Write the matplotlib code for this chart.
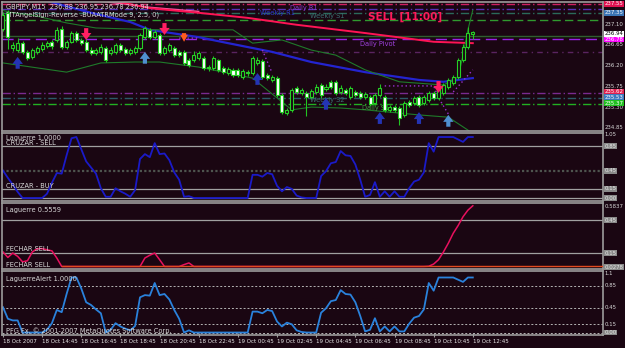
import matplotlib.pyplot as plt
import numpy as np

W, H = 625, 348
bg = '#1a0612'

# GBPJPY M15 bars, 18 Oct 12:45 -> 19 Oct 12:45
bar_open = [237.00, 237.35, 236.58, 236.54, 236.69, 236.50, 236.39, 236.50, 236.56, 236.63,
            236.72, 236.76, 237.00, 236.61, 236.72, 236.91, 236.76, 236.72, 236.54, 236.48,
            236.50, 236.58, 236.48, 236.50, 236.65, 236.56, 236.48, 236.50, 236.58, 236.82,
            236.98, 236.82, 236.87, 236.48, 236.54, 236.58, 236.50, 236.50, 236.32, 236.32,
            236.37, 236.37, 236.17, 236.15, 236.32, 236.15, 236.04, 236.11, 236.11, 235.95,
            236.06, 236.04, 236.26, 236.30, 236.00, 235.89, 235.93, 235.56, 235.17, 235.24,
            235.72, 235.61, 235.61, 235.52, 235.63, 235.78, 235.70, 235.85, 235.85, 235.63,
            235.67, 235.52, 235.63, 235.61, 235.52, 235.52, 235.39, 235.56, 235.52, 235.24,
            235.30, 235.28, 235.13, 235.41, 235.39, 235.52, 235.39, 235.45, 235.61, 235.50,
            235.61, 235.74, 235.82, 235.95, 236.32, 236.61, 236.88]
bar_close = [237.30, 236.82, 236.65, 236.69, 236.50, 236.37, 236.54, 236.58, 236.65, 236.69,
             236.63, 236.98, 236.61, 236.72, 236.91, 236.76, 236.69, 236.54, 236.48, 236.54,
             236.61, 236.32, 236.54, 236.65, 236.54, 236.48, 236.54, 236.58, 236.87, 237.02,
             236.82, 236.93, 236.48, 236.58, 236.65, 236.43, 236.43, 236.26, 236.22, 236.43,
             236.48, 236.15, 236.15, 236.37, 236.11, 236.06, 236.13, 236.00, 236.00, 236.09,
             236.04, 236.37, 236.32, 235.95, 235.93, 235.95, 235.56, 235.19, 235.24, 235.67,
             235.63, 235.67, 235.52, 235.65, 235.74, 235.56, 235.74, 235.74, 235.61, 235.72,
             235.61, 235.72, 235.56, 235.52, 235.58, 235.37, 235.56, 235.72, 235.24, 235.30,
             235.24, 235.06, 235.39, 235.35, 235.50, 235.35, 235.52, 235.61, 235.50, 235.74,
             235.78, 235.89, 235.95, 236.32, 236.61, 236.91, 236.94]
bar_high = [237.36, 237.41, 236.72, 236.80, 236.74, 236.54, 236.58, 236.63, 236.72, 236.74,
            236.76, 237.04, 237.06, 236.76, 236.96, 236.96, 236.80, 236.78, 236.60, 236.58,
            236.67, 236.63, 236.60, 236.70, 236.70, 236.60, 236.58, 236.63, 236.91, 237.06,
            237.02, 236.98, 236.91, 236.63, 236.70, 236.63, 236.54, 236.54, 236.37, 236.52,
            236.52, 236.41, 236.22, 236.41, 236.35, 236.19, 236.17, 236.15, 236.15, 236.13,
            236.11, 236.41, 236.39, 236.35, 236.04, 236.00, 235.98, 235.61, 235.28, 235.72,
            235.76, 235.72, 235.65, 235.70, 235.80, 235.82, 235.80, 235.89, 235.89, 235.78,
            235.72, 235.76, 235.67, 235.65, 235.63, 235.56, 235.61, 235.80, 235.56, 235.35,
            235.35, 235.33, 235.43, 235.45, 235.54, 235.56, 235.56, 235.65, 235.65, 235.78,
            235.82, 235.93, 236.00, 236.37, 236.67, 237.04, 236.95]
bar_low = [236.95, 236.56, 236.52, 236.50, 236.46, 236.33, 236.35, 236.45, 236.52, 236.58,
           236.56, 236.72, 236.56, 236.56, 236.69, 236.72, 236.65, 236.50, 236.43, 236.43,
           236.46, 236.28, 236.43, 236.46, 236.50, 236.43, 236.43, 236.46, 236.54, 236.78,
           236.78, 236.78, 236.43, 236.43, 236.50, 236.39, 236.39, 236.22, 236.17, 236.28,
           236.32, 236.11, 236.09, 236.11, 236.06, 236.02, 236.00, 235.95, 235.96, 235.91,
           235.98, 236.00, 236.22, 235.91, 235.89, 235.85, 235.52, 235.15, 235.13, 235.19,
           235.58, 235.56, 235.10, 235.48, 235.58, 235.50, 235.65, 235.70, 235.56, 235.58,
           235.56, 235.48, 235.52, 235.48, 235.48, 235.33, 235.35, 235.52, 235.19, 235.19,
           235.19, 234.90, 235.08, 235.30, 235.35, 235.30, 235.35, 235.41, 235.45, 235.45,
           235.56, 235.70, 235.78, 235.91, 236.28, 236.56, 236.78]

# moving averages / bands, read at some bars
red_ma_idx = [0, 10, 20, 25, 30, 40, 50, 60, 74, 88, 96]
red_ma = [237.95, 237.80, 237.66, 237.56, 237.45, 237.35, 237.24, 237.09, 236.91, 236.72, 236.69]
pink_ma_idx = [0, 10, 20, 25, 30, 40]
pink_ma = [237.90, 237.74, 237.60, 237.54, 237.47, 237.38]
blue_ma_idx = [0, 6, 12, 18, 26, 30, 40, 46, 55, 63, 74, 85, 90, 96]
blue_ma = [237.85, 237.70, 237.52, 237.35, 237.15, 236.98, 236.82, 236.69, 236.50, 236.28,
           236.06, 235.89, 235.85, 235.93]
up_band_idx = [0, 2, 6, 13, 19, 32, 47, 51, 57, 63, 68, 74, 81, 90, 93, 94, 95, 96]
up_band = [237.40, 237.35, 237.30, 237.13, 237.02, 236.98, 236.98, 236.69, 236.76, 236.54,
           236.43, 236.11, 235.85, 235.78, 235.95, 236.43, 236.98, 237.41]
lo_band_idx = [0, 13, 20, 27, 32, 40, 51, 59, 63, 69, 74, 85, 91, 95, 96]
lo_band = [236.26, 236.06, 236.26, 236.28, 236.28, 236.17, 235.93, 235.24, 235.30, 235.28,
           235.24, 235.13, 235.08, 234.80, 234.70]
stop_idx = [36, 40, np.nan, 53, 55, np.nan, 78, 88, 89, 91, np.nan, 92, 96]
stop_val = [236.80, 236.80, np.nan, 236.54, 236.04, np.nan, 235.76, 235.76, 235.50, 235.15, np.nan, 235.63, 236.11]

# horizontal levels
level_val = [237.55, 237.44, 237.35, 237.20, 236.84, 236.78, 236.50, 235.60, 235.50, 235.37]
level_col = ['#d02060', '#5a30b8', '#2a6a5a', '#2f9a2f', '#2e5e2e', '#9a22e8', '#5a2460',
             '#7a2a90', '#2a5a66', '#22b022']
level_ls = [(0, (6, 2, 1, 2)), (0, (6, 2, 1, 2)), (0, (6, 2, 1, 2)), (0, (6, 3)), '-',
            (0, (8, 4)), (0, (4, 3, 1, 3)), (0, (6, 2, 1, 2)), (0, (6, 2, 1, 2)), (0, (6, 2, 1, 2))]

up_arrow_idx = [3, 29, 52, 66, 77, 85, 91]
up_arrow_px = [236.39, 236.50, 236.04, 235.50, 235.19, 235.19, 235.13]
up_arrow_col = ['#2434b4', '#4f8fd0', '#2434b4', '#2434b4', '#2434b4', '#2434b4', '#4f8fd0']
dn_arrow_idx = [17, 33, 37, 89]
dn_arrow_px = [236.76, 236.87, 236.72, 235.61]
dn_arrow_col = ['#ff1f63', '#ff1f63', '#ff5a1e', '#ff1f63']

lag1 = [0.45, 0.33, 0.22, 0.10, 0.0, 0.0, 0.0, 0.0, 0.0, 0.07,
        0.25, 0.41, 0.40, 0.70, 0.98, 1.0, 0.80, 0.60, 0.50, 0.40,
        0.16, 0.02, 0.02, 0.16, 0.11, 0.07, 0.02, 0.13, 0.64, 0.72,
        0.67, 0.90, 0.72, 0.73, 0.62, 0.42, 0.30, 0.02, 0.03, 0.0,
        0.0, 0.0, 0.0, 0.0, 0.0, 0.0, 0.0, 0.0, 0.0, 0.0,
        0.0, 0.38, 0.38, 0.35, 0.41, 0.39, 0.20, 0.11, 0.18, 0.15,
        0.04, 0.01, 0.0, 0.0, 0.0, 0.36, 0.44, 0.57, 0.59, 0.77,
        0.70, 0.69, 0.55, 0.30, 0.02, 0.05, 0.26, 0.02, 0.11, 0.02,
        0.11, 0.02, 0.02, 0.16, 0.27, 0.30, 0.42, 0.90, 0.76, 1.0,
        1.0, 1.0, 1.0, 0.96, 0.92, 1.0, 1.0]
lag2 = [0.16, 0.11, 0.15, 0.12, 0.07, 0.08, 0.16, 0.19, 0.19, 0.18,
        0.17, 0.105, 0.0278, 0.0278, 0.0278, 0.0278, 0.0278, 0.0278, 0.0278, 0.0278,
        0.0278, 0.0278, 0.0278, 0.0278, 0.0278, 0.0278, 0.0278, 0.0278, 0.0278, 0.105,
        0.13, 0.15, 0.09, 0.0278, 0.0278, 0.0278, 0.0278, 0.045, 0.06, 0.0278,
        0.0278, 0.0278, 0.0278, 0.0278, 0.0278, 0.0278, 0.0278, 0.0278, 0.0278, 0.0278,
        0.0278, 0.0278, 0.0278, 0.0278, 0.0278, 0.0278, 0.0278, 0.0278, 0.0278, 0.0278,
        0.0278, 0.0278, 0.0278, 0.0278, 0.0278, 0.0278, 0.0278, 0.0278, 0.0278, 0.0278,
        0.0278, 0.0278, 0.0278, 0.0278, 0.0278, 0.0278, 0.0278, 0.0278, 0.0278, 0.0278,
        0.0278, 0.0278, 0.0278, 0.0278, 0.0278, 0.0278, 0.0278, 0.03, 0.05, 0.09,
        0.16, 0.24, 0.33, 0.40, 0.48, 0.54, 0.58]
lag_alert = [0.46, 0.25, 0.22, 0.22, 0.0, 0.0, 0.0, 0.0, 0.0, 0.05,
             0.17, 0.41, 0.37, 0.70, 1.0, 1.0, 0.80, 0.55, 0.50, 0.42,
             0.35, 0.0, 0.05, 0.17, 0.11, 0.07, 0.04, 0.12, 0.64, 0.68,
             0.67, 0.90, 0.68, 0.70, 0.60, 0.41, 0.25, 0.0, 0.04, 0.0,
             0.0, 0.0, 0.0, 0.0, 0.0, 0.0, 0.0, 0.0, 0.0, 0.0,
             0.0, 0.38, 0.38, 0.35, 0.41, 0.39, 0.20, 0.11, 0.18, 0.15,
             0.04, 0.01, 0.0, 0.0, 0.0, 0.36, 0.44, 0.57, 0.59, 0.77,
             0.70, 0.69, 0.55, 0.30, 0.02, 0.05, 0.26, 0.02, 0.11, 0.02,
             0.11, 0.02, 0.02, 0.16, 0.27, 0.30, 0.42, 0.90, 0.76, 1.0,
             1.0, 1.0, 1.0, 0.96, 0.92, 1.0, 1.0]

tick_idx = list(range(0, 97, 8))
tick_labels = ['18 Oct 2007', '18 Oct 14:45', '18 Oct 16:45', '18 Oct 18:45', '18 Oct 20:45',
               '18 Oct 22:45', '19 Oct 00:45', '19 Oct 02:45', '19 Oct 04:45', '19 Oct 06:45',
               '19 Oct 08:45', '19 Oct 10:45', '19 Oct 12:45']

txt = '#d8d8d8'
fig = plt.figure(figsize=(W / 100, H / 100), dpi=100, facecolor=bg)


def panel(x0, y0, x1, y1, ylim):
    ax = fig.add_axes([x0 / W, 1 - y1 / H, (x1 - x0) / W, (y1 - y0) / H], facecolor=bg)
    ax.set_xlim(-0.2, 122.6)
    ax.set_ylim(*ylim)
    ax.set_xticks([])
    ax.set_yticks([])
    for s in ax.spines.values():
        s.set_color('#9c9c9c')
        s.set_linewidth(1.2)
    return ax


def rlabel(ax, v, s, fc=None, tc=txt):
    kw = {}
    if fc:
        kw['bbox'] = dict(boxstyle='square,pad=0.08', fc=fc, ec='none')
    ax.text(1.003, v, s, transform=ax.get_yaxis_transform(), fontsize=3.9, color=tc,
            va='center', ha='left', clip_on=False, **kw)


def ltext(ax, y, s, color=txt):
    ax.text(0.006, y, s, transform=ax.transAxes, fontsize=4.8, color=color, va='center', ha='left')


# ---------- main price window ----------
ax = panel(2, 2, 603, 131, (234.78, 237.585))
idx = np.arange(len(bar_close))

for v, c, ls in zip(level_val, level_col, level_ls):
    ax.axhline(v, color=c, lw=1.0, linestyle=ls, zorder=1)

ax.plot(pink_ma_idx, pink_ma, color='#ff5aa0', lw=1.0, zorder=2)
ax.plot(red_ma_idx, red_ma, color='#ff1455', lw=1.4, zorder=2)
ax.plot(blue_ma_idx, blue_ma, color='#2424d0', lw=1.6, zorder=2)
ax.plot(up_band_idx, up_band, color='#1f7a2a', lw=0.8, zorder=2)
ax.plot(lo_band_idx, lo_band, color='#1f7a2a', lw=0.8, zorder=2)
ax.plot(stop_idx, stop_val, color='#9a30d0', lw=1.0, linestyle=(0, (1, 2)), zorder=2)

o = np.array(bar_open)
c = np.array(bar_close)
ax.vlines(idx, bar_low, bar_high, color='#22c422', lw=0.8, zorder=3)
body_lo = np.minimum(o, c)
body_h = np.maximum(np.abs(c - o), 0.012)
fills = ['#ffffff' if cc < oo else bg for oo, cc in zip(o, c)]
ax.bar(idx, body_h, bottom=body_lo, width=0.62, color=fills, edgecolor='#26d026',
       linewidth=0.8, zorder=4)

for i, p, col in zip(up_arrow_idx, up_arrow_px, up_arrow_col):
    ax.annotate('', xy=(i, p), xytext=(0, -8.5), textcoords='offset points', zorder=5,
                arrowprops=dict(arrowstyle='simple,head_width=0.75,head_length=0.5,tail_width=0.3',
                                color=col, lw=0, shrinkA=0, shrinkB=0))
for i, p, col in zip(dn_arrow_idx, dn_arrow_px, dn_arrow_col):
    sz = 0.55 if col == '#ff5a1e' else 0.75
    ax.annotate('', xy=(i, p), xytext=(0, 8.5 * sz / 0.75), textcoords='offset points', zorder=5,
                arrowprops=dict(arrowstyle='simple,head_width=%.2f,head_length=0.5,tail_width=0.3' % sz,
                                color=col, lw=0, shrinkA=0, shrinkB=0))

ax.text(58.7, 237.45, 'Daily R1', fontsize=4.8, color='#8a3ac8', va='center')
ax.text(52.5, 237.35, 'Weekly R1', fontsize=4.8, color='#2a3ac8', va='center')
ax.text(62.8, 237.27, 'Weekly S1', fontsize=4.8, color='#3a7070', va='center')
ax.text(73.0, 236.67, 'Daily Pivot', fontsize=4.8, color='#a040e0', va='center')
ax.text(62.8, 235.45, 'Weekly S2', fontsize=4.8, color='#3a7070', va='center')
ax.text(73.4, 235.28, 'Daily S1', fontsize=4.8, color='#40a040', va='center')
ax.text(82.2, 237.26, 'SELL [11:00]', fontsize=7.5, color='#ff1a5a', fontweight='bold',
        ha='center', va='center')

ltext(ax, 0.965, 'GBPJPY,M15  236.88 236.95 236.78 236.94')
ltext(ax, 0.905, 'MTAngelSign-Reverse -BUAATRMode 9, 2.5, 0)')

for v in [237.10, 236.65, 236.20, 235.75, 235.30, 234.85]:
    rlabel(ax, v, '%.2f' % v)
rlabel(ax, 237.55, '237.55', '#e01050', '#ffffff')
rlabel(ax, 237.35, '237.35', '#3a74b4', '#ffffff')
rlabel(ax, 236.89, '236.94', '#ffffff', '#000000')
rlabel(ax, 236.77, '236.78', '#ff00ff', '#ffffff')
rlabel(ax, 235.63, '235.62', '#e02050', '#ffffff')
rlabel(ax, 235.51, '235.53', '#3a7ac0', '#ffffff')
rlabel(ax, 235.38, '235.37', '#20c020', '#ffffff')

# ---------- Laguerre 1.0000 ----------
ax2 = panel(2, 133, 603, 201, (-0.049, 1.066))
ax2.axhline(0.85, color='#a0a0a0', lw=0.9)
ax2.axhline(0.45, color='#4e544e', lw=1.6, linestyle=(0, (1, 1)))
ax2.axhline(0.15, color='#a0a0a0', lw=0.9)
ax2.axhline(0.0, color='#a0a0a0', lw=0.9)
ax2.plot(idx, lag1, color='#1a1ac8', lw=1.3)
ltext(ax2, 0.93, 'Laguerre 1.0000')
ltext(ax2, 0.86, 'CRUZAR - SELL')
ltext(ax2, 0.22, 'CRUZAR - BUY')
rlabel(ax2, 1.04, '1.05')
for v in [0.85, 0.45, 0.15, 0.0]:
    rlabel(ax2, v, '%.2f' % v, '#8a8a8a', '#e6e6e6')

# ---------- Laguerre 0.5559 ----------
ax3 = panel(2, 203, 603, 269, (0.005, 0.605))
ax3.axhline(0.45, color='#a0a0a0', lw=0.9)
ax3.axhline(0.15, color='#a0a0a0', lw=0.9)
ax3.plot(idx, lag2, color='#e8105e', lw=1.1, zorder=2)
ax3.axhline(0.0278, xmin=0.1, color='#e04a20', lw=1.0, zorder=3)
ltext(ax3, 0.90, 'Laguerre 0.5559')
ltext(ax3, 0.30, 'FECHAR SELL')
ltext(ax3, 0.06, 'FECHAR SELL')
rlabel(ax3, 0.57, '0.5837')
for v in [0.45, 0.15]:
    rlabel(ax3, v, '%.2f' % v, '#8a8a8a', '#e6e6e6')
rlabel(ax3, 0.02, '0.0278', '#8a8a8a', '#e6e6e6')

# ---------- LaguerreAlert 1.0000 ----------
ax4 = panel(2, 271, 603, 335, (-0.045, 1.118))
for v in [0.85, 0.45, 0.15, 0.0]:
    ax4.axhline(v, color='#b4b4b4', lw=0.7, linestyle=(0, (2, 2)))
ax4.plot(idx, lag_alert, color='#2a82dc', lw=1.3)
ltext(ax4, 0.88, 'LaguerreAlert 1.0000')
ltext(ax4, 0.07, 'PFG Fx, \u00a9 2001-2007 MetaQuotes Software Corp.')
rlabel(ax4, 1.08, '1.1')
for v in [0.85, 0.45, 0.15]:
    rlabel(ax4, v, '%.2f' % v)
rlabel(ax4, 0.0, '0.00', '#8a8a8a', '#e6e6e6')

ax4.set_xticks(tick_idx)
ax4.set_xticklabels(tick_labels, ha='left', fontsize=4.0, color='#e8e8e8')
ax4.tick_params(axis='x', length=3, width=0.8, color='#9c9c9c', pad=1.5, direction='inout')

fig.savefig('out.png', dpi=100, facecolor=bg)
